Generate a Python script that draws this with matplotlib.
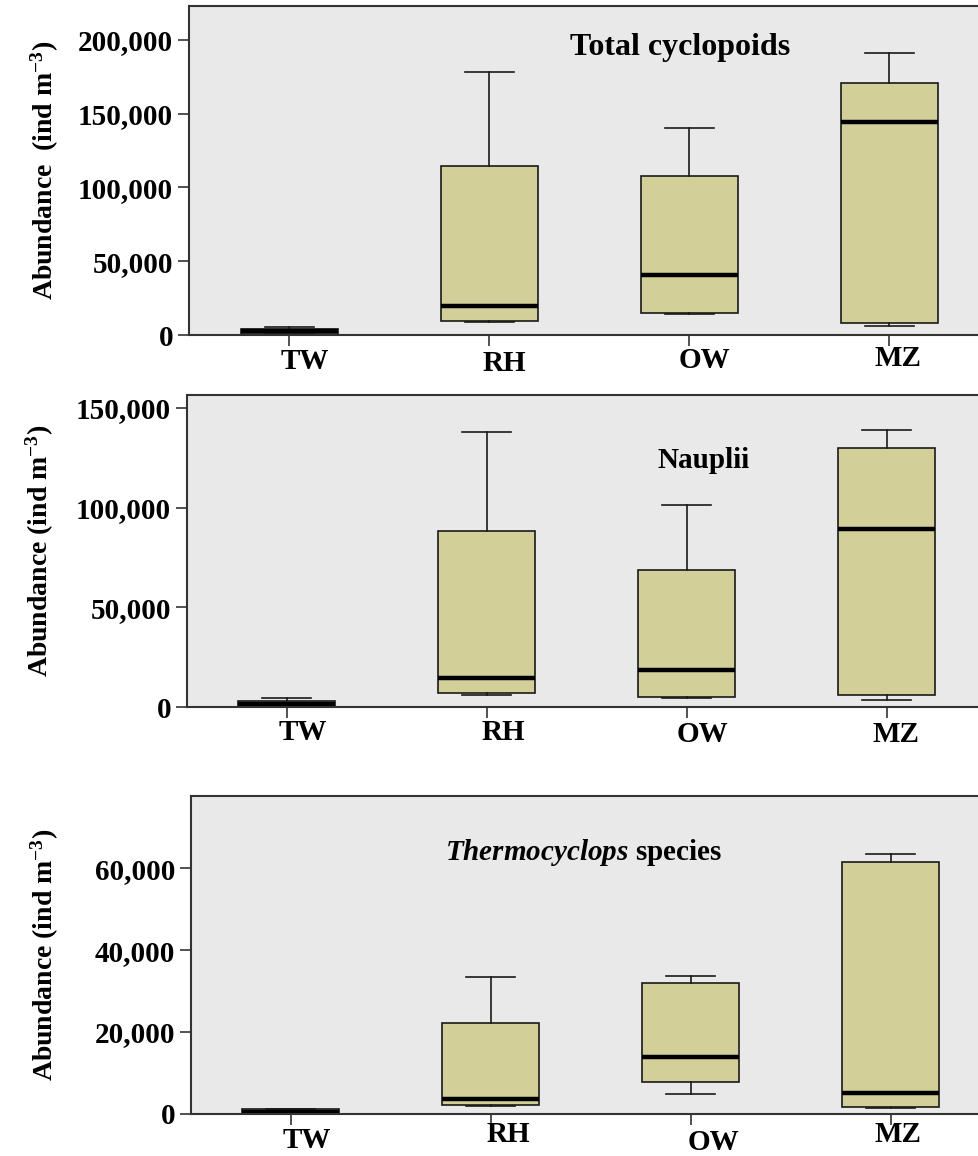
import matplotlib.pyplot as plt
from matplotlib.ticker import FuncFormatter
from matplotlib.transforms import ScaledTranslation

plt.rcParams['font.family'] = 'Liberation Serif'
plt.rcParams['font.weight'] = 'bold'
plt.rcParams['mathtext.fontset'] = 'custom'
plt.rcParams['mathtext.rm'] = 'Liberation Serif:bold'
plt.rcParams['mathtext.bf'] = 'Liberation Serif:bold'
plt.rcParams['mathtext.it'] = 'Liberation Serif:italic:bold'

sites = ['TW', 'RH', 'OW', 'MZ']

# Total cyclopoids: whisker low, q1, median, q3, whisker high
tot_lo = [500, 8800, 14200, 6100]
tot_q1 = [800, 9500, 14900, 8100]
tot_med = [2500, 19700, 40700, 144400]
tot_q3 = [4000, 114600, 107800, 170800]
tot_hi = [5400, 178300, 140300, 191200]

# Nauplii
nau_lo = [200, 6000, 4500, 3500]
nau_q1 = [300, 7000, 5000, 6000]
nau_med = [1500, 14500, 18600, 89300]
nau_q3 = [3000, 88300, 68700, 129900]
nau_hi = [4500, 137900, 101300, 138900]

# Thermocyclops species
the_lo = [100, 2000, 4900, 1500]
the_q1 = [150, 2200, 7800, 1700]
the_med = [600, 3700, 13900, 5100]
the_q3 = [1200, 22200, 32000, 61500]
the_hi = [1300, 33400, 33700, 63400]

panels = [
    dict(lo=tot_lo, q1=tot_q1, med=tot_med, q3=tot_q3, hi=tot_hi,
         title='Total cyclopoids', tx=680, ty=48, tsize=23, ylim=223000,
         ticks=[0, 50000, 100000, 150000, 200000],
         rect=[189, 6, 335], lab_x=61, ylabel=r'Abundance  (ind m$^{-3}$)',
         xoff=[(16, 0), (15, -2), (15, 1), (9, 3)]),
    dict(lo=nau_lo, q1=nau_q1, med=nau_med, q3=nau_q3, hi=nau_hi,
         title='Nauplii', tx=704, ty=460, tsize=21, ylim=156500,
         ticks=[0, 50000, 100000, 150000],
         rect=[187, 395, 707], lab_x=56, ylabel=r'Abundance (ind m$^{-3}$)',
         xoff=[(16, 0), (16, 0), (16, -1), (9, -1)]),
    dict(lo=the_lo, q1=the_q1, med=the_med, q3=the_q3, hi=the_hi,
         title=r'$\mathit{Thermocyclops}$ species', tx=584, ty=852, tsize=21,
         ylim=77600, ticks=[0, 20000, 40000, 60000],
         rect=[191, 796, 1114], lab_x=61, ylabel=r'Abundance (ind m$^{-3}$)',
         xoff=[(16, 0), (17, 6), (23, -3), (7, 6)]),
]

W, H = 979, 1156
fig = plt.figure(figsize=(W / 100, H / 100), dpi=100)

for p in panels:
    left, top, bottom = p['rect']
    ax = fig.add_axes([left / W, 1 - bottom / H, 800 / W, (bottom - top) / H])
    ax.set_facecolor('#e9e9e9')

    stats = []
    for i, s in enumerate(sites):
        stats.append(dict(label=s, whislo=p['lo'][i], q1=p['q1'][i], med=p['med'][i],
                          q3=p['q3'][i], whishi=p['hi'][i], fliers=[]))
    ax.bxp(stats, positions=range(len(sites)), widths=0.485, patch_artist=True,
           showfliers=False,
           boxprops=dict(facecolor='#d3cf99', edgecolor='#1a1a1a', linewidth=1.2),
           medianprops=dict(color='black', linewidth=3.2),
           whiskerprops=dict(color='#1a1a1a', linewidth=1.2),
           capprops=dict(color='#1a1a1a', linewidth=1.2),
           capwidths=0.245)

    ax.set_xlim(-0.5, 3.5)
    ax.set_ylim(0, p['ylim'])
    ax.set_yticks(p['ticks'])
    ax.yaxis.set_major_formatter(FuncFormatter(lambda v, pos: f'{int(v):,}'))
    ax.set_xticks(range(len(sites)))
    ax.set_xticklabels(sites)

    for sp in ax.spines.values():
        sp.set_color('#333333')
        sp.set_linewidth(1.5)
    ax.spines['right'].set_visible(False)

    ax.tick_params(axis='both', labelsize=21, length=8, width=1.2, color='#333333')
    ax.tick_params(axis='x', pad=1)
    for lab, (dx, dy) in zip(ax.get_xticklabels(), p['xoff']):
        off = ScaledTranslation(dx / 100, dy / 100, fig.dpi_scale_trans)
        lab.set_transform(lab.get_transform() + off)
        lab.set_fontweight('bold')
    for lab in ax.get_yticklabels():
        lab.set_fontweight('bold')

    ax.set_ylabel(p['ylabel'], fontsize=20, fontweight='bold')
    ax.yaxis.set_label_coords(-(left - p['lab_x']) / 800, 0.5)

    fig.text(p['tx'] / W, 1 - p['ty'] / H, p['title'], fontsize=p['tsize'],
             fontweight='bold', ha='center', va='center')

fig.savefig('out.png', dpi=100)
